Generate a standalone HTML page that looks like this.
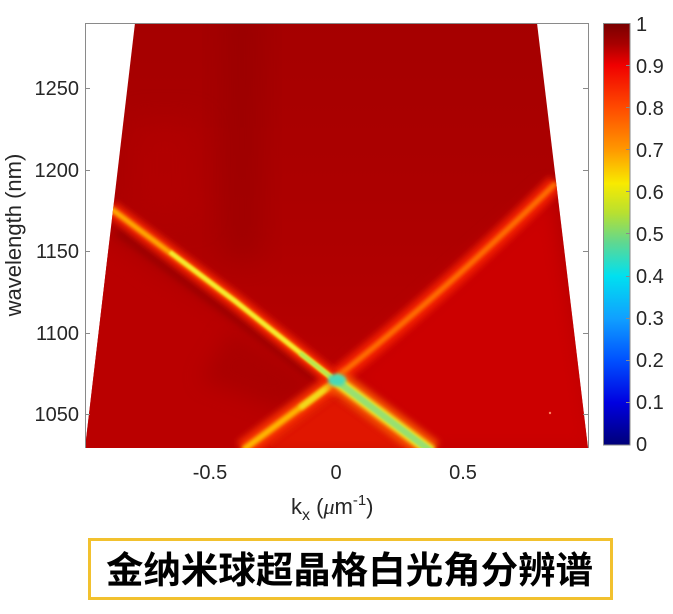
<!DOCTYPE html>
<html>
<head>
<meta charset="utf-8">
<style>
  html,body{margin:0;padding:0;background:#fff;}
  body{width:673px;height:614px;overflow:hidden;position:relative;}
  svg{position:absolute;left:0;top:0;}
  .t{font-family:"Liberation Sans",Arial,sans-serif;font-size:20px;fill:#262626;}
</style>
</head>
<body>
<svg width="673" height="614" viewBox="0 0 673 614" xmlns="http://www.w3.org/2000/svg">
  <defs>
    <clipPath id="trap">
      <polygon points="135,23 537,23 588,448 85,448"/>
    </clipPath>
    <linearGradient id="bg" x1="0" y1="23" x2="0" y2="448" gradientUnits="userSpaceOnUse">
      <stop offset="0" stop-color="#a50000"/>
      <stop offset="0.5" stop-color="#ae0000"/>
      <stop offset="1" stop-color="#bc0000"/>
    </linearGradient>
    <linearGradient id="cb" x1="0" y1="0" x2="0" y2="1">
      <stop offset="0" stop-color="#780000"/>
      <stop offset="0.05" stop-color="#a80000"/>
      <stop offset="0.1" stop-color="#f00000"/>
      <stop offset="0.2" stop-color="#ff4a00"/>
      <stop offset="0.3" stop-color="#ff9800"/>
      <stop offset="0.38" stop-color="#f8ea00"/>
      <stop offset="0.45" stop-color="#b8e030"/>
      <stop offset="0.52" stop-color="#60d890"/>
      <stop offset="0.6" stop-color="#00e0f0"/>
      <stop offset="0.7" stop-color="#10a0ff"/>
      <stop offset="0.8" stop-color="#0050ff"/>
      <stop offset="0.9" stop-color="#0000e0"/>
      <stop offset="1" stop-color="#000078"/>
    </linearGradient>
    <filter id="b12" x="-50%" y="-50%" width="200%" height="200%"><feGaussianBlur stdDeviation="14"/></filter>
    <filter id="b10" x="-50%" y="-50%" width="200%" height="200%"><feGaussianBlur stdDeviation="10"/></filter>
    <filter id="b6" x="-50%" y="-50%" width="200%" height="200%"><feGaussianBlur stdDeviation="6"/></filter>
    <filter id="b3" x="-50%" y="-50%" width="200%" height="200%"><feGaussianBlur stdDeviation="3.5"/></filter>
    <filter id="b2" x="-50%" y="-50%" width="200%" height="200%"><feGaussianBlur stdDeviation="1.8"/></filter>
    <filter id="b1" x="-50%" y="-50%" width="200%" height="200%"><feGaussianBlur stdDeviation="1"/></filter>
  </defs>

  <!-- heatmap -->
  <g clip-path="url(#trap)">
    <rect x="80" y="20" width="515" height="432" fill="url(#bg)"/>
    <rect x="222" y="0" width="40" height="260" fill="#8c0000" opacity="0.4" filter="url(#b12)"/>
    <rect x="130" y="120" width="70" height="100" fill="#b80000" opacity="0.5" filter="url(#b12)"/>
    <polygon points="85,225 300,372 243,452 80,452" fill="#ba0000" filter="url(#b10)"/>
    <polygon points="230,330 320,382 280,410 200,380" fill="#a40000" opacity="0.7" filter="url(#b10)"/>
    <polyline points="118,232 235,318 315,378" fill="none" stroke="#8a0000" stroke-width="7" opacity="0.65" filter="url(#b3)"/>
    <polygon points="345,378 553,188 595,452 432,452" fill="#cc0600" filter="url(#b10)"/>
    <polygon points="334,392 250,452 425,452" fill="#e01200" filter="url(#b6)"/>

    <!-- Line B (upper right) -->
    <path d="M338,376 Q440,296 556,183" fill="none" stroke="#ff2800" stroke-width="18" opacity="0.8" filter="url(#b3)"/>
    <path d="M338,376 Q440,296 556,183" fill="none" stroke="#ff7000" stroke-width="5.5" filter="url(#b2)"/>

    <!-- Line C (lower left) -->
    <polyline points="332,384 243,450" fill="none" stroke="#ff3800" stroke-width="20" opacity="0.85" filter="url(#b3)"/>
    <polyline points="332,384 243,450" fill="none" stroke="#ffb800" stroke-width="6.5" filter="url(#b2)"/>
    <polyline points="332,384 300,408" fill="none" stroke="#f0e020" stroke-width="5" filter="url(#b2)"/>

    <!-- Line A upper-left -->
    <polyline points="110,208 235,301 332,378" fill="none" stroke="#ff2c00" stroke-width="16" opacity="0.85" filter="url(#b3)"/>
    <polyline points="110,208 235,301 332,378" fill="none" stroke="#ffb000" stroke-width="5.5" filter="url(#b2)"/>
    <polyline points="170,252 235,301 332,378" fill="none" stroke="#f4ec30" stroke-width="4" filter="url(#b1)"/>
    <polyline points="300,353 332,378" fill="none" stroke="#b8e850" stroke-width="4" filter="url(#b1)"/>

    <!-- Line A lower-right -->
    <polyline points="334,379 432,452" fill="none" stroke="#ff6000" stroke-width="24" opacity="0.85" filter="url(#b3)"/>
    <polyline points="334,379 432,452" fill="none" stroke="#f0e020" stroke-width="12" filter="url(#b2)"/>
    <polyline points="334,379 432,452" fill="none" stroke="#98e070" stroke-width="6.5" filter="url(#b1)"/>

    <ellipse cx="337" cy="380" rx="9" ry="6" fill="#48d8b8" filter="url(#b2)"/>
    <circle cx="550" cy="413" r="1.2" fill="#ff8060"/>
  </g>

  <!-- axes frame -->
  <g stroke="#8a8a8a" stroke-width="1" fill="none">
    <line x1="85.5" y1="23" x2="85.5" y2="448"/>
    <line x1="588.5" y1="23" x2="588.5" y2="448"/>
    <line x1="85" y1="23.5" x2="589" y2="23.5"/>
    <line x1="85" y1="88.5" x2="90" y2="88.5"/>
    <line x1="85" y1="170.5" x2="90" y2="170.5"/>
    <line x1="85" y1="251.5" x2="90" y2="251.5"/>
    <line x1="85" y1="333.5" x2="90" y2="333.5"/>
    <line x1="85" y1="414.5" x2="90" y2="414.5"/>
    <line x1="583" y1="88.5" x2="588" y2="88.5"/>
    <line x1="583" y1="170.5" x2="588" y2="170.5"/>
    <line x1="583" y1="251.5" x2="588" y2="251.5"/>
    <line x1="583" y1="333.5" x2="588" y2="333.5"/>
    <line x1="583" y1="414.5" x2="588" y2="414.5"/>
  </g>

  <g class="t" text-anchor="end">
    <text x="79" y="95">1250</text>
    <text x="79" y="177">1200</text>
    <text x="79" y="258">1150</text>
    <text x="79" y="340">1100</text>
    <text x="79" y="421">1050</text>
  </g>
  <g class="t" text-anchor="middle">
    <text x="210" y="479">-0.5</text>
    <text x="336" y="479">0</text>
    <text x="463" y="479">0.5</text>
  </g>
  <text class="t" style="font-size:22px" transform="translate(21,235) rotate(-90)" text-anchor="middle">wavelength (nm)</text>
  <text class="t" style="font-size:22px" x="291" y="514">k<tspan style="font-size:16px" dy="6">x</tspan><tspan dy="-6"> (</tspan><tspan font-style="italic" font-family="Liberation Serif, serif">μ</tspan>m<tspan style="font-size:15px" dy="-9">-1</tspan><tspan dy="9">)</tspan></text>

  <!-- colorbar -->
  <rect x="603" y="23" width="27" height="422" fill="url(#cb)"/>
  <rect x="603.5" y="23.5" width="26.5" height="421.5" fill="none" stroke="#8a8a8a" stroke-width="1"/>
  <g stroke="#8a8a8a" stroke-width="1">
    <line x1="626" y1="65.5" x2="630" y2="65.5"/>
    <line x1="626" y1="107.5" x2="630" y2="107.5"/>
    <line x1="626" y1="149.5" x2="630" y2="149.5"/>
    <line x1="626" y1="191.5" x2="630" y2="191.5"/>
    <line x1="626" y1="233.5" x2="630" y2="233.5"/>
    <line x1="626" y1="276.5" x2="630" y2="276.5"/>
    <line x1="626" y1="318.5" x2="630" y2="318.5"/>
    <line x1="626" y1="360.5" x2="630" y2="360.5"/>
    <line x1="626" y1="402.5" x2="630" y2="402.5"/>
  </g>
  <g class="t">
    <text x="636" y="31">1</text>
    <text x="636" y="73">0.9</text>
    <text x="636" y="115">0.8</text>
    <text x="636" y="157">0.7</text>
    <text x="636" y="199">0.6</text>
    <text x="636" y="241">0.5</text>
    <text x="636" y="283">0.4</text>
    <text x="636" y="325">0.3</text>
    <text x="636" y="367">0.2</text>
    <text x="636" y="409">0.1</text>
    <text x="636" y="451">0</text>
  </g>

  <rect x="89.5" y="539.5" width="522" height="59" fill="#fff" stroke="#f2c12e" stroke-width="3"/>
  <text x="106" y="583" textLength="487" lengthAdjust="spacingAndGlyphs" style="font-family:'Liberation Sans','Noto Sans CJK SC',sans-serif;font-size:37px;font-weight:bold;fill:#000;">金纳米球超晶格白光角分辨谱</text>
</svg>
</body>
</html>
